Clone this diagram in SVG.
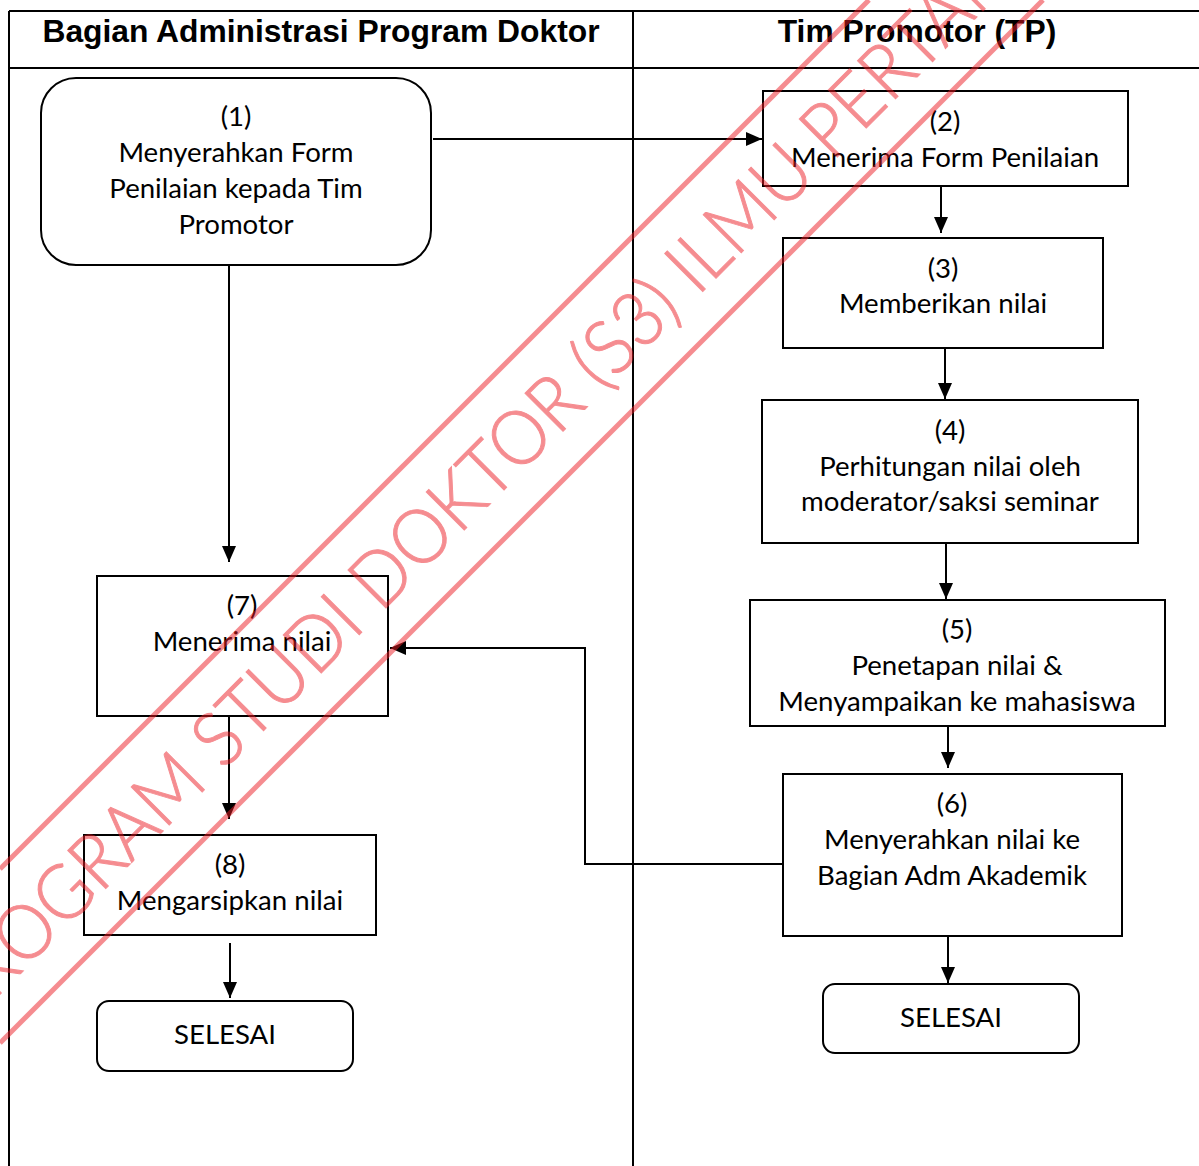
<svg xmlns="http://www.w3.org/2000/svg" width="1199" height="1166" viewBox="0 0 1199 1166">
  <style>
    .frame { stroke: #000; stroke-width: 2; fill: none; }
    .box { stroke: #000; stroke-width: 2; fill: #fff; }
    .head { font-family: "Liberation Sans", Arial, sans-serif; font-weight: bold; font-size: 31.8px; fill: #000; text-anchor: middle; }
    .lbl { font-family: Lato, "Open Sans", sans-serif; font-size: 27.6px; fill: #000; text-anchor: middle; }
    .conn { stroke: #000; stroke-width: 2; fill: none; }
    .mark { fill: #ed1c24; stroke: #ed1c24; stroke-width: 1; }
  </style>
  <defs>
    <marker id="arrow" viewBox="0 0 16 14" refX="16" refY="7" markerWidth="16" markerHeight="14" markerUnits="userSpaceOnUse" orient="auto">
      <path d="M0,0 L16,7 L0,14 z" fill="#000"/>
    </marker>
  </defs>

  <rect width="1199" height="1166" fill="#fff"/>

  <!-- swimlane table -->
  <g id="lanes">
    <line class="frame" x1="9" y1="11" x2="1199" y2="11"/>
    <line class="frame" x1="9" y1="68" x2="1199" y2="68"/>
    <line class="frame" x1="9" y1="11" x2="9" y2="1166"/>
    <line class="frame" x1="633" y1="11" x2="633" y2="1166"/>
    <text class="head" x="321" y="42">Bagian Administrasi Program Doktor</text>
    <text class="head" x="917" y="42">Tim Promotor (TP)</text>
  </g>

  <!-- connectors -->
  <g id="connectors">
    <line class="conn" x1="433" y1="139" x2="762" y2="139" marker-end="url(#arrow)"/>
    <line class="conn" x1="941" y1="186" x2="941" y2="233" marker-end="url(#arrow)"/>
    <line class="conn" x1="945" y1="348" x2="945" y2="399" marker-end="url(#arrow)"/>
    <line class="conn" x1="946" y1="543" x2="946" y2="599" marker-end="url(#arrow)"/>
    <line class="conn" x1="948" y1="726" x2="948" y2="768" marker-end="url(#arrow)"/>
    <line class="conn" x1="948" y1="936" x2="948" y2="983" marker-end="url(#arrow)"/>
    <line class="conn" x1="229" y1="265" x2="229" y2="562" marker-end="url(#arrow)"/>
    <line class="conn" x1="229" y1="711" x2="229" y2="819" marker-end="url(#arrow)"/>
    <line class="conn" x1="230" y1="943" x2="230" y2="998" marker-end="url(#arrow)"/>
    <polyline class="conn" points="783,864 585,864 585,648 390,648" marker-end="url(#arrow)"/>
  </g>

  <!-- left lane nodes -->
  <g id="node1">
    <rect class="box" x="41" y="78" width="390" height="187" rx="35" ry="35"/>
    <text class="lbl" x="236" y="126">(1)</text>
    <text class="lbl" x="236" y="162">Menyerahkan Form</text>
    <text class="lbl" x="236" y="198">Penilaian kepada Tim</text>
    <text class="lbl" x="236" y="234">Promotor</text>
  </g>
  <g id="node7">
    <rect class="box" x="97" y="576" width="291" height="140"/>
    <text class="lbl" x="242" y="615">(7)</text>
    <text class="lbl" x="242" y="651">Menerima nilai</text>
  </g>
  <g id="node8">
    <rect class="box" x="84" y="835" width="292" height="100"/>
    <text class="lbl" x="230" y="874">(8)</text>
    <text class="lbl" x="230" y="910">Mengarsipkan nilai</text>
  </g>
  <g id="end-left">
    <rect class="box" x="97" y="1001" width="256" height="70" rx="12" ry="12"/>
    <text class="lbl" x="225" y="1044">SELESAI</text>
  </g>

  <!-- right lane nodes -->
  <g id="node2">
    <rect class="box" x="763" y="91" width="365" height="95"/>
    <text class="lbl" x="945" y="131">(2)</text>
    <text class="lbl" x="945" y="167">Menerima Form Penilaian</text>
  </g>
  <g id="node3">
    <rect class="box" x="783" y="238" width="320" height="110"/>
    <text class="lbl" x="943" y="278">(3)</text>
    <text class="lbl" x="943" y="313">Memberikan nilai</text>
  </g>
  <g id="node4">
    <rect class="box" x="762" y="400" width="376" height="143"/>
    <text class="lbl" x="950" y="440">(4)</text>
    <text class="lbl" x="950" y="476">Perhitungan nilai oleh</text>
    <text class="lbl" x="950" y="511">moderator/saksi seminar</text>
  </g>
  <g id="node5">
    <rect class="box" x="750" y="600" width="415" height="126"/>
    <text class="lbl" x="957" y="639">(5)</text>
    <text class="lbl" x="957" y="675">Penetapan nilai &amp;</text>
    <text class="lbl" x="957" y="711">Menyampaikan ke mahasiswa</text>
  </g>
  <g id="node6">
    <rect class="box" x="783" y="774" width="339" height="162"/>
    <text class="lbl" x="952" y="813">(6)</text>
    <text class="lbl" x="952" y="849">Menyerahkan nilai ke</text>
    <text class="lbl" x="952" y="885">Bagian Adm Akademik</text>
  </g>
  <g id="end-right">
    <rect class="box" x="823" y="984" width="256" height="69" rx="12" ry="12"/>
    <text class="lbl" x="951" y="1027">SELESAI</text>
  </g>

  <!-- diagonal stamp across the sheet -->
  <g id="stamp" opacity="0.5">
    <line x1="0" y1="869" x2="869" y2="0" stroke="#ed1c24" stroke-width="5"/>
    <line x1="0" y1="1043" x2="1043" y2="0" stroke="#ed1c24" stroke-width="5"/>
    <text class="mark" x="-805" y="703" transform="rotate(-45) scale(0.936 1)" font-family="Lato, 'Open Sans', sans-serif" font-weight="300" font-size="76">PROGRAM STUDI DOKTOR (S3) ILMU PERTANIAN</text>
  </g>
</svg>
